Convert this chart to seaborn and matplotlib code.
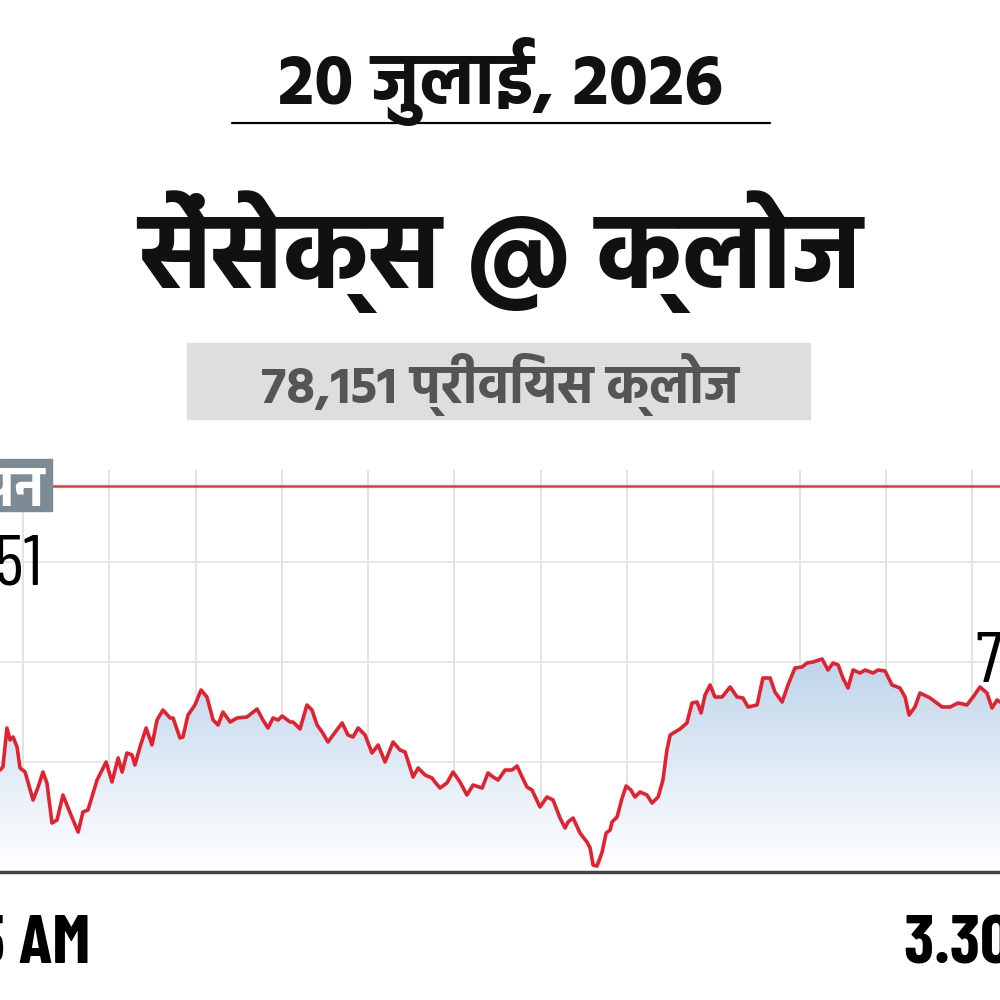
import numpy as np
import pandas as pd
import matplotlib
matplotlib.use("Agg")
import matplotlib.pyplot as plt
import seaborn as sns
from matplotlib import font_manager as fm
from matplotlib.patches import Rectangle
from matplotlib.lines import Line2D
from matplotlib.colors import LinearSegmentedColormap

# ---------------- data ----------------
date_title = "20 जुलाई, 2026"
main_title = "सेंसेक्स @ क्लोज"
prev_close_label = "78,151 प्रीवियस क्लोज"
prev_close = 78151
open_tag = "ओपन"
open_value_text = "78,151"
close_value_text = "77,723"
x_tick_labels = ["9.15 AM", "3.30 PM"]
session_minutes = [0, 375]  # minutes since 9:15

time_min = [0, 1.1, 2.6, 3.75, 4.9, 6.4, 7.5, 9.4, 12.4, 14.3, 16.1, 17.6, 19.5, 21.4, 23.6, 26.3,
            29.3, 31.1, 33, 36.4, 39.8, 42, 44.3, 45.8, 47.6, 49.5, 50.6, 52.5, 54.8, 57, 58.9, 61.1,
            63.8, 64.9, 67.5, 68.6, 70.5, 73.1, 75.4, 77.6, 79.9, 81.8, 83.6, 86.3, 88.9, 92.6, 96.4,
            98.6, 100.5, 102.4, 104.3, 105.8, 108.8, 109.9, 112.5, 115.1, 117, 118.9, 120.8, 123,
            124.9, 128.3, 130.5, 132.4, 134.3, 136.9, 139.5, 141.8, 144.4, 147.4, 150, 151.9, 154.9,
            156.8, 159.4, 162, 163.1, 165, 167.6, 169.9, 172.5, 175.1, 177.4, 180.8, 183, 184.9,
            186.8, 189.4, 192, 193.9, 195.8, 197.6, 199.5, 202.5, 205.1, 207.4, 210, 211.9, 213,
            214.9, 217.5, 220.1, 221.3, 222.4, 223.9, 225.8, 227.3, 228.8, 229.5, 231.4, 233.3,
            234.8, 236.6, 238.1, 240, 242.6, 244.5, 246.8, 248.6, 250.1, 251.3, 253.1, 255, 257.6,
            259.5, 261.4, 262.9, 264.4, 266.3, 268.1, 270.8, 273.8, 276.4, 278.6, 280.5, 283.9,
            286.1, 288.8, 290.6, 293.3, 295.5, 298.1, 300.8, 302.6, 304.9, 308.3, 310.5, 312.4,
            314.3, 316.1, 318, 319.9, 322.5, 324.4, 327.4, 329.3, 331.9, 334.5, 337.5, 339.4, 340.9,
            343.1, 345, 348.8, 353.3, 356.3, 359.3, 362.6, 364.9, 367.5, 370.1, 372, 373.9, 375]

sensex = [77583, 77589, 77667, 77643, 77649, 77629, 77587, 77579, 77523, 77549, 77579, 77557, 77477,
          77483, 77533, 77497, 77459, 77499, 77503, 77563, 77599, 77559, 77607, 77579, 77617, 77613,
          77593, 77629, 77667, 77633, 77683, 77703, 77687, 77687, 77647, 77649, 77693, 77713, 77743,
          77729, 77683, 77673, 77699, 77679, 77687, 77689, 77705, 77683, 77667, 77687, 77683, 77691,
          77679, 77679, 77665, 77713, 77703, 77673, 77659, 77639, 77653, 77677, 77653, 77649, 77667,
          77653, 77617, 77633, 77599, 77639, 77623, 77619, 77569, 77587, 77573, 77567, 77559, 77547,
          77557, 77579, 77559, 77533, 77553, 77547, 77577, 77569, 77563, 77583, 77583, 77591, 77569,
          77549, 77543, 77509, 77529, 77523, 77487, 77467, 77479, 77487, 77457, 77439, 77427, 77393,
          77391, 77419, 77457, 77463, 77479, 77489, 77527, 77551, 77543, 77529, 77539, 77533, 77517,
          77529, 77563, 77623, 77653, 77659, 77665, 77677, 77717, 77719, 77697, 77733, 77753, 77729,
          77729, 77749, 77729, 77727, 77709, 77713, 77767, 77767, 77739, 77719, 77753, 77787, 77789,
          77797, 77799, 77805, 77783, 77797, 77793, 77767, 77747, 77783, 77777, 77783, 77777, 77783,
          77781, 77753, 77747, 77729, 77693, 77709, 77737, 77727, 77709, 77709, 77717, 77713, 77729,
          77749, 77737, 77707, 77723, 77719]

n = min(len(time_min), len(sensex))
df = pd.DataFrame({"minute": time_min[:n], "sensex": sensex[:n]})

# ---------------- fonts ----------------
sns.set_theme(style="white")
names = {f.name for f in fm.fontManager.ttflist}
deva = "Hind" if "Hind" in names else ("Mukta" if "Mukta" in names else "FreeSans")
cond = "Barlow Condensed" if "Barlow Condensed" in names else "Liberation Sans"
plt.rcParams["font.family"] = [deva, "DejaVu Sans"]

# ---------------- figure ----------------
fig = plt.figure(figsize=(10, 10), dpi=100)
fig.patch.set_facecolor("white")

y_bottom = 77379
y_top = 78183
ax = fig.add_axes([0, 0.128, 1, 0.402])
ax.set_xlim(session_minutes[0], session_minutes[1])
ax.set_ylim(y_bottom, y_top)
ax.set_facecolor("white")

# grid
ax.set_yticks([77400, 77600, 77800, 78000])
ax.set_yticklabels([])
ax.set_xticks(np.arange(8.6, 375, 32.36), minor=True)
ax.set_xticks(session_minutes)
ax.set_xticklabels(x_tick_labels)
ax.grid(False)
ax.grid(True, axis="y", which="major", color="#e3e3e3", lw=1.2, zorder=0)
ax.grid(True, axis="x", which="minor", color="#e3e3e3", lw=1.4, zorder=0)
ax.tick_params(axis="x", which="both", length=0, pad=31)
ax.tick_params(axis="y", length=0)
for lab in ax.get_xticklabels():
    lab.set_fontfamily(cond)
    lab.set_fontweight("bold")
    lab.set_fontsize(50)
    lab.set_color("black")

for s in ["top", "left", "right"]:
    ax.spines[s].set_visible(False)
ax.spines["bottom"].set_color("#444444")
ax.spines["bottom"].set_linewidth(2.5)

# gradient fill under the line
poly = ax.fill_between(df["minute"], df["sensex"], y_bottom, facecolor="none", edgecolor="none")
cmap = LinearSegmentedColormap.from_list("g", [(0, "#ffffff"), (0.45, "#e4edf7"), (1, "#bed4ea")])
grad = np.linspace(0, 1, 256).reshape(-1, 1)
im = ax.imshow(grad, extent=[session_minutes[0], session_minutes[1], y_bottom, max(sensex)],
               aspect="auto", cmap=cmap, origin="lower", zorder=1, interpolation="bicubic")
im.set_clip_path(poly.get_paths()[0], transform=ax.transData)

# line
sns.lineplot(data=df, x="minute", y="sensex", ax=ax, color="#e3222f", lw=2.6, zorder=3)
ax.set_xlabel("")
ax.set_ylabel("")

# previous close reference line
ax.axhline(prev_close, xmin=0.052, xmax=1, color="#e5393f", lw=1.8, zorder=2)

# ---------------- texts ----------------
fig.text(0.5, 0.919, date_title, ha="center", va="center", fontsize=52, fontweight="bold",
         color="#111111")
fig.add_artist(Line2D([0.232, 0.770], [0.877, 0.877], color="black", lw=1.6))
fig.text(0.5, 0.748, main_title, ha="center", va="center", fontsize=76, fontweight="bold",
         color="#111111")
fig.add_artist(Rectangle((0.187, 0.581), 0.623, 0.076, color="#dedede", transform=fig.transFigure,
                         zorder=0))
fig.text(0.5, 0.615, prev_close_label, ha="center", va="center", fontsize=38, fontweight="bold",
         color="#555555")

# left tag
fig.add_artist(Rectangle((0, 0.489), 0.052, 0.052, color="#7d8b96", transform=fig.transFigure))
fig.text(0.045, 0.510, open_tag, ha="right", va="center", fontsize=40, fontweight="bold",
         color="white")
fig.text(0.042, 0.415, open_value_text, ha="right", va="baseline", fontsize=52, color="black",
         family=cond)
# right close value
fig.text(0.975, 0.318, close_value_text, ha="left", va="baseline", fontsize=52, color="black",
         family=cond)

fig.savefig("out.png", dpi=100, facecolor="white")
